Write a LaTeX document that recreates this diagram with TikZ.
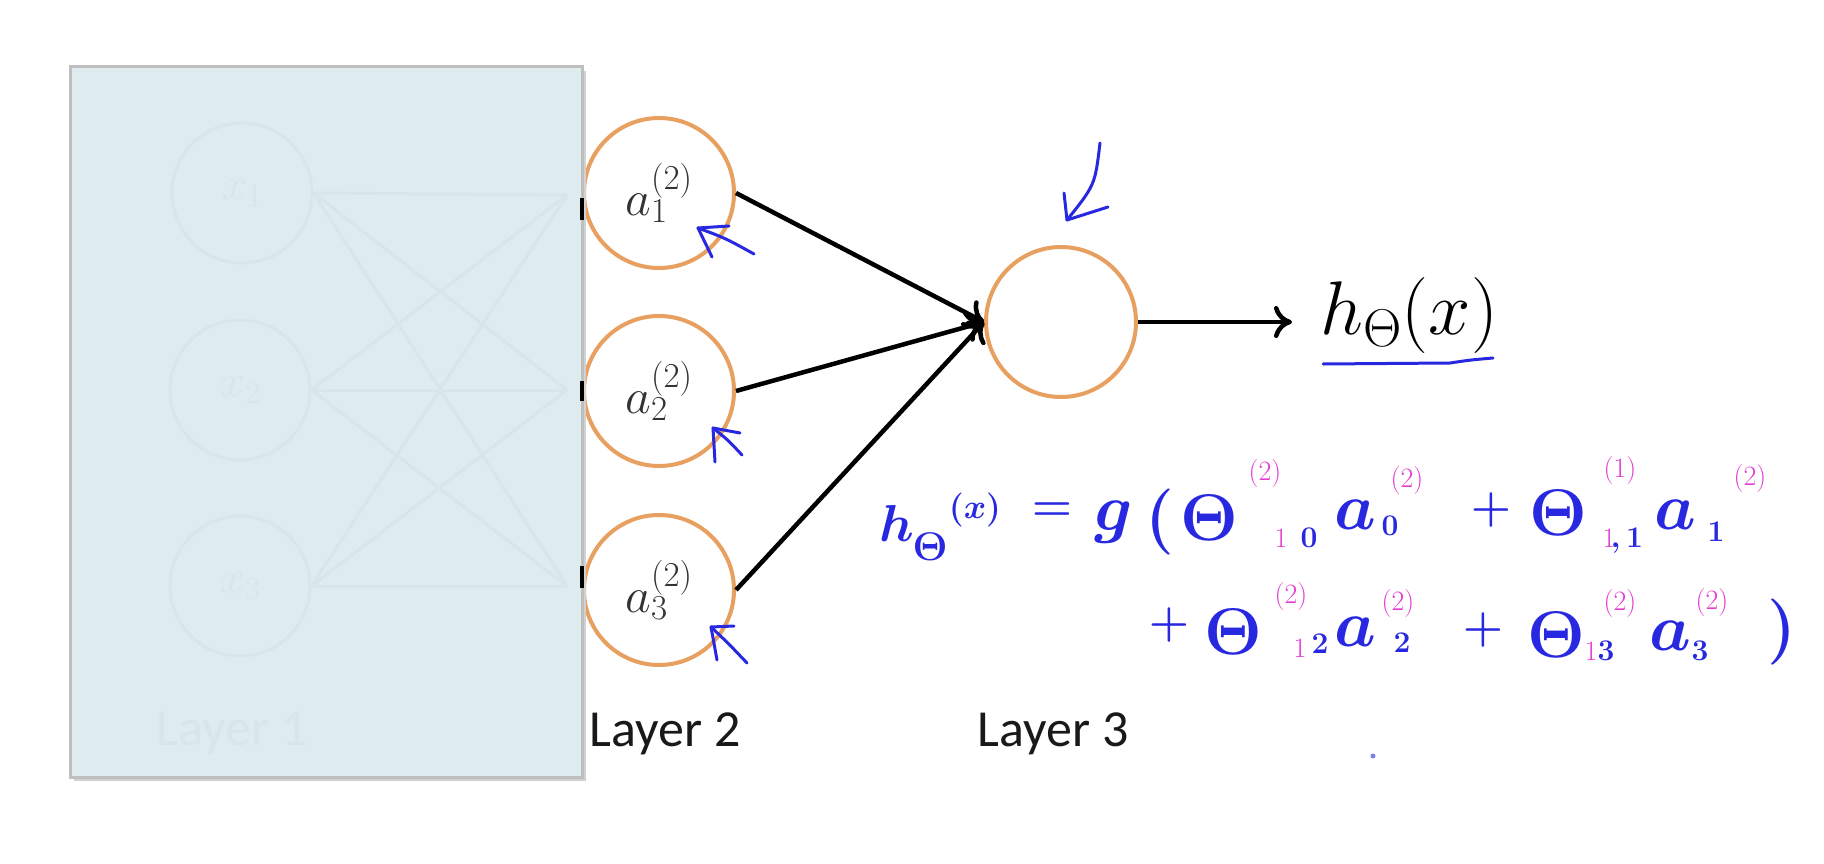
\RequirePackage{fix-cm}
\documentclass[tikz,border=0pt]{standalone}
\usepackage{fontspec}
\newfontfamily\carlito{Carlito}
\usetikzlibrary{arrows.meta}
\definecolor{panel}{RGB}{222,235,239}
\definecolor{faint}{RGB}{216,230,235}
\definecolor{ring}{RGB}{232,160,96}
\definecolor{pen}{RGB}{40,40,225}
\definecolor{pink}{RGB}{228,60,210}
\tikzset{
  unitnode/.style={circle, draw=ring, line width=4pt, minimum size=150pt, inner sep=0pt, fill=white},
  ghostnode/.style={circle, draw=faint, line width=3pt, minimum size=140pt, inner sep=0pt},
  ghostedge/.style={draw=faint, line width=3pt},
  edge/.style={line width=4.5pt, -{To[length=18pt,width=32pt,line width=4.5pt]}},
  layerlabel/.style={font=\carlito\fontsize{52}{60}\selectfont, text=black!90, inner sep=0pt},
  unitlabel/.style={font=\fontsize{50}{56}\selectfont, text=black!80},
  ink/.style={draw=pen, line width=3pt, line cap=round, line join=round},
  hwb/.style={text=pen, inner sep=0pt, anchor=base, font=\fontsize{66}{70}\selectfont\boldmath},
  hwm/.style={text=pen, inner sep=0pt, anchor=base, font=\fontsize{52}{56}\selectfont\boldmath},
  hwsb/.style={text=pen, inner sep=0pt, anchor=base, font=\fontsize{30}{32}\selectfont\boldmath},
  hwsp/.style={text=pink, inner sep=0pt, anchor=base, font=\fontsize{28}{30}\selectfont},
  hwop/.style={text=pen, inner sep=0pt, anchor=center, font=\fontsize{46}{50}\selectfont\boldmath},
}
\begin{document}
\begin{tikzpicture}[x=1pt,y=-1pt]
\useasboundingbox (0,0) rectangle (1824,864);
\fill[white] (0,0) rectangle (1824,864);

% layer 2 units
\node[unitnode] (a1) at (659,193) {};
\node[unitnode] (a2) at (659,391) {};
\node[unitnode] (a3) at (659,590) {};
% layer 3 unit
\node[unitnode] (out) at (1061,322) {};

% faded panel over layer 1
\fill[black!18] (74,71) rectangle (586,781);
\draw[draw=black!25, line width=3pt, fill=panel] (70,67) rectangle (582,777);
\node[ghostnode] (g1) at (242,193) {};
\node[ghostnode] (g2) at (240,390) {};
\node[ghostnode] (g3) at (240,586) {};
\node[text=faint, font=\fontsize{46}{50}\selectfont] (gx1) at (g1) {$x_1$};
\node[text=faint, font=\fontsize{46}{50}\selectfont] (gx2) at (g2) {$x_2$};
\node[text=faint, font=\fontsize{46}{50}\selectfont] (gx3) at (g3) {$x_3$};
\coordinate (r1) at (567,195);
\coordinate (r2) at (567,390);
\coordinate (r3) at (567,586);
\foreach \s in {g1,g2,g3}{
  \foreach \t in {r1,r2,r3}{
    \draw[ghostedge] (\s.east) -- (\t);
  }
}
\node[text=faint, font=\carlito\fontsize{52}{60}\selectfont] (gl1) at (232,733) {Layer 1};
% arrow tips peeking out of the panel
\draw[line width=4pt] (582,198) -- (582,220);
\draw[line width=4pt] (582,381) -- (582,401);
\draw[line width=4pt] (582,566) -- (582,588);

% labels in units
\node[unitlabel] (la1) at (a1) {$a_1^{(2)}$};
\node[unitlabel] (la2) at (a2) {$a_2^{(2)}$};
\node[unitlabel] (la3) at (a3) {$a_3^{(2)}$};

% connectors
\draw[edge] (a1.east) -- (out.west);
\draw[edge] (a2.east) -- (out.west);
\draw[edge] (a3.east) -- (out.west);

% output
\node[inner sep=0pt, anchor=west, font=\fontsize{76}{84}\selectfont] (h) at (1320,316) {$h_\Theta(x)$};
\draw[edge, shorten >=28pt] (out.east) -- (out.east -| h.west);
\draw[draw=pen, line width=3pt, line cap=round] (1323,364) -- (1450,363) .. controls (1470,360) .. (1493,358);

% layer labels
\node[layerlabel] (L2) at (665,734) {Layer 2};
\node[layerlabel] (L3) at (1053,734) {Layer 3};

% handwritten arrows
\draw[ink] (754,254) .. controls (725,238) .. (698,228);
\draw[ink] (698,228) -- (729,226);
\draw[ink] (698,228) -- (712,257);
\draw[ink] (742,455) .. controls (728,440) .. (713,428);
\draw[ink] (713,428) -- (740,433);
\draw[ink] (713,428) -- (715,462);
\draw[ink] (747,663) .. controls (728,643) .. (711,627);
\draw[ink] (711,627) -- (734,626);
\draw[ink] (711,627) -- (717,660);
\draw[ink] (1100,143) .. controls (1095,185) .. (1067,220);
\draw[ink] (1067,220) -- (1064,193);
\draw[ink] (1067,220) -- (1108,207);

% handwritten formula, line 1
\node[hwm] (f1) at (897,541) {$h$};
\node[hwsb, font=\fontsize{40}{44}\selectfont\boldmath] (f2) at (930,560) {$\Theta$};
\node[hwsb, font=\fontsize{34}{36}\selectfont\boldmath] (f3) at (975,518) {$(x)$};
\node[hwop] (f4) at (1052,512) {$=$};
\node[hwb] (f5) at (1114,530) {$g$};
\node[hwb] (f6) at (1160,538) {$($};
\node[hwb] (f7) at (1209,540) {$\Theta$};
\node[hwsp] (f8) at (1265,480) {$(2)$};
\node[hwsp] (f9) at (1281,547) {$1$};
\node[hwsb] (f10) at (1309,547) {$0$};
\node[hwb] (f11) at (1355,529) {$a$};
\node[hwsb] (f12) at (1390,535) {$0$};
\node[hwsp] (f13) at (1407,487) {$(2)$};
\node[hwop] (f14) at (1491,510) {$+$};
\node[hwb] (f15) at (1558,535) {$\Theta$};
\node[hwsp] (f16) at (1620,477) {$(1)$};
\node[hwsp] (f17) at (1609,547) {$1$};
\node[hwsb] (f18) at (1627,547) {$,1$};
\node[hwb] (f19) at (1675,529) {$a$};
\node[hwsb] (f20) at (1716,541) {$1$};
\node[hwsp] (f21) at (1750,485) {$(2)$};
% line 2
\node[hwop] (s1) at (1169,625) {$+$};
\node[hwb] (s2) at (1233,654) {$\Theta$};
\node[hwsp] (s3) at (1291,603) {$(2)$};
\node[hwsp] (s4) at (1300,657) {$1$};
\node[hwsb] (s5) at (1320,653) {$2$};
\node[hwb] (s6) at (1355,646) {$a$};
\node[hwsb] (s7) at (1402,652) {$2$};
\node[hwsp] (s8) at (1398,610) {$(2)$};
\node[hwop] (s9) at (1483,630) {$+$};
\node[hwb] (s10) at (1556,657) {$\Theta$};
\node[hwsp] (s11) at (1620,610) {$(2)$};
\node[hwsp] (s12) at (1591,660) {$1$};
\node[hwsb] (s13) at (1606,660) {$3$};
\node[hwb] (s14) at (1670,650) {$a$};
\node[hwsb] (s15) at (1700,660) {$3$};
\node[hwsp] (s16) at (1712,609) {$(2)$};
\node[hwb] (s17) at (1782,648) {$)$};
\fill[pen!60] (1373,756) circle (2.5);
\end{tikzpicture}
\end{document}
